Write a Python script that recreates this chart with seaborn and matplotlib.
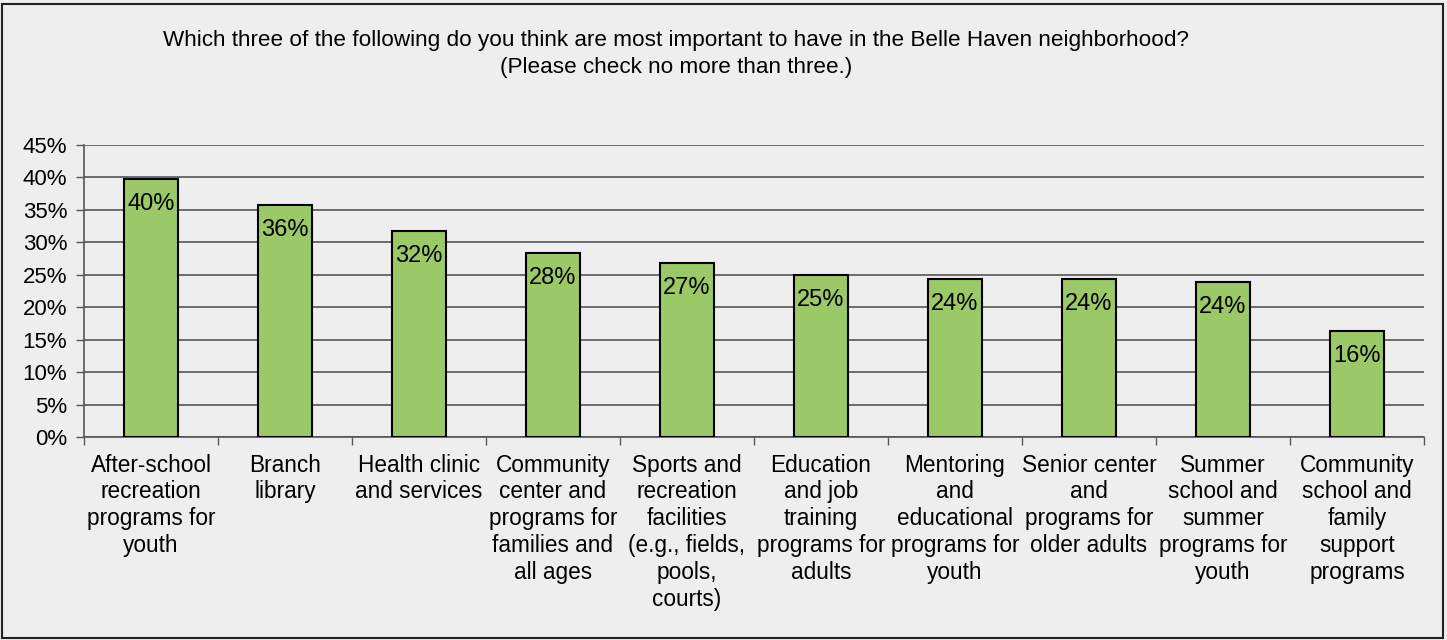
import matplotlib
matplotlib.use("Agg")
import matplotlib.pyplot as plt
import seaborn as sns
import pandas as pd
import numpy as np
from matplotlib.patches import Rectangle

categories = [
    "After-school\nrecreation\nprograms for\nyouth",
    "Branch\nlibrary",
    "Health clinic\nand services",
    "Community\ncenter and\nprograms for\nfamilies and\nall ages",
    "Sports and\nrecreation\nfacilities\n(e.g., fields,\npools,\ncourts)",
    "Education\nand job\ntraining\nprograms for\nadults",
    "Mentoring\nand\neducational\nprograms for\nyouth",
    "Senior center\nand\nprograms for\nolder adults",
    "Summer\nschool and\nsummer\nprograms for\nyouth",
    "Community\nschool and\nfamily\nsupport\nprograms",
]
values = [0.398, 0.357, 0.317, 0.284, 0.268, 0.249, 0.243, 0.243, 0.239, 0.163]
labels = ["40%", "36%", "32%", "28%", "27%", "25%", "24%", "24%", "24%", "16%"]
yticks = [0, 0.05, 0.10, 0.15, 0.20, 0.25, 0.30, 0.35, 0.40, 0.45]
ytick_labels = ["0%", "5%", "10%", "15%", "20%", "25%", "30%", "35%", "40%", "45%"]
title = ("Which three of the following do you think are most important to have in the Belle Haven neighborhood?\n"
         "(Please check no more than three.)")

sns.set_style("white")
plt.rcParams['font.family'] = ['Liberation Sans', 'DejaVu Sans']
plt.rcParams['text.color'] = 'black'
plt.rcParams['xtick.color'] = 'black'
plt.rcParams['ytick.color'] = 'black'

bg = "#EEEEEE"
fig = plt.figure(figsize=(14.47, 6.40), dpi=100, facecolor=bg)
ax = fig.add_axes([84/1447, 1 - 437/640, (1424-84)/1447, (437-145)/640])
ax.set_facecolor(bg)

df = pd.DataFrame({"cat": categories, "val": values})
sns.barplot(data=df, x="cat", y="val", color="#9BC967", width=0.41,
            edgecolor="black", linewidth=1.5, saturation=1, ax=ax, zorder=3)

for i, (v, lab) in enumerate(zip(values, labels)):
    ax.annotate(lab, (i, v), xytext=(0, -10), textcoords="offset points",
                ha="center", va="top", fontsize=17, color="black", zorder=4)

ax.set_ylim(0, 0.45)
ax.set_xlim(-0.5, len(categories) - 0.5)
ax.set_yticks(yticks)
ax.set_yticklabels(ytick_labels, fontsize=16)
ax.yaxis.grid(True, color="#555555", linewidth=1.2, zorder=0)
ax.set_axisbelow(True)
ax.tick_params(axis="y", length=6, width=1, color="#555555", direction="out", left=True, pad=6,
               labelcolor="black")
ax.set_xticks(range(len(categories)))
ax.set_xticklabels(categories, fontsize=16.3, linespacing=1.21, va="top", color="black")
ax.tick_params(axis="x", length=0, pad=12)
ax.set_xticks(np.arange(-0.5, len(categories) + 0.5, 1), minor=True)
ax.tick_params(axis="x", which="minor", length=6, width=1, color="#555555", direction="out", bottom=True)
ax.set_xlabel("")
ax.set_ylabel("")
for s in ["top", "right"]:
    ax.spines[s].set_visible(False)
for s in ["left", "bottom"]:
    ax.spines[s].set_color("#555555")
    ax.spines[s].set_linewidth(1.2)

fig.text(0.467, 1 - 54/640, title, ha="center", va="center", fontsize=16.2, linespacing=1.4,
         color="black")

fig.patches.append(Rectangle((2/1447, 2/640), 1 - 6/1447, 1 - 6/640, transform=fig.transFigure,
                             fill=False, edgecolor="#222222", linewidth=1.5))

fig.savefig("out.png", dpi=100, facecolor=bg)
